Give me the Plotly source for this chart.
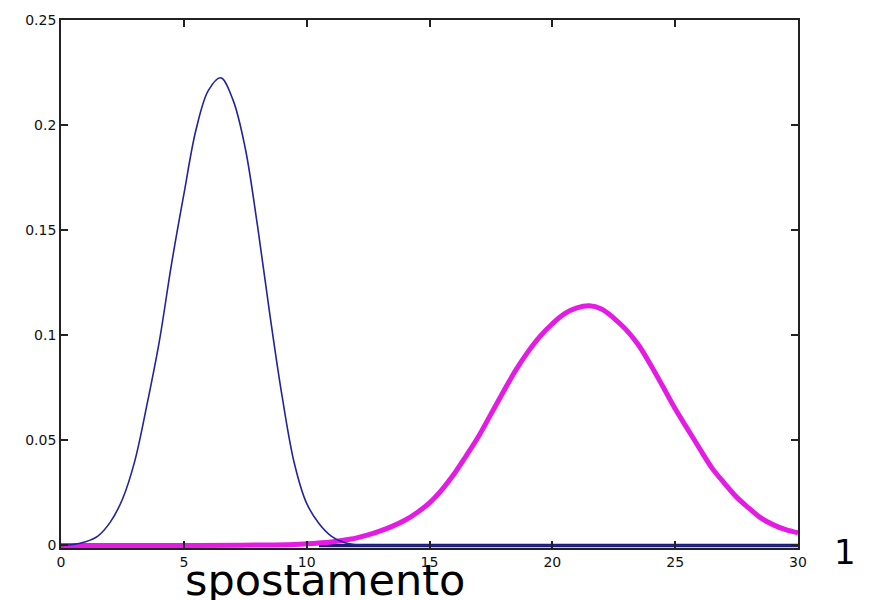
import plotly.graph_objects as go

# Blue (narrow) curve
blue_x = [0, 0.5, 1.0, 1.5, 2.0, 2.5, 3.0, 3.5, 4.0, 4.5, 5.0, 5.5, 6.0, 6.5, 7.0, 7.5,
          8.0, 8.5, 9.0, 9.5, 10.0, 10.5, 11.0, 11.5, 12.0, 12.5, 15, 20, 25, 30]
blue_y = [0, 0.0005, 0.0018, 0.0045, 0.011, 0.022, 0.040, 0.067, 0.097, 0.134, 0.167,
          0.198, 0.2165, 0.2225, 0.212, 0.189, 0.152, 0.110, 0.071, 0.039, 0.020,
          0.0105, 0.0045, 0.0015, 0.0003, 0, 0, 0, 0, 0]

# Magenta (wide) curve
mag_x = [0, 5, 9.5, 10, 10.5, 11, 11.5, 12, 12.5, 13, 13.5, 14, 14.5, 15, 15.5, 16, 16.5,
         17, 17.5, 18, 18.5, 19, 19.5, 20, 20.5, 21, 21.5, 22, 22.5, 23, 23.5, 24, 24.5,
         25, 25.5, 26, 26.5, 27, 27.5, 28, 28.5, 29, 29.5, 30]
mag_y = [0, 0, 0.0005, 0.0008, 0.0012, 0.0017, 0.0025, 0.0035, 0.005, 0.0069, 0.0092,
         0.0120, 0.0157, 0.0203, 0.0265, 0.0340, 0.0428, 0.052, 0.0625, 0.073, 0.0832,
         0.092, 0.0995, 0.1055, 0.1103, 0.1130, 0.1140, 0.1125, 0.1082, 0.1027, 0.0955,
         0.086, 0.0756, 0.065, 0.0555, 0.046, 0.0368, 0.0297, 0.023, 0.0178, 0.013,
         0.0098, 0.0075, 0.006]

# Dark baseline segment visible along the x axis
base_x = [10.5, 30]
base_y = [0, 0]

x_ticks = [0, 5, 10, 15, 20, 25, 30]
x_labels = ["0", "5", "10", "15", "20", "25", "30"]
y_ticks = [0, 0.05, 0.1, 0.15, 0.2, 0.25]
y_labels = ["0", "0.05", "0.1", "0.15", "0.2", "0.25"]

fig = go.Figure()
fig.add_trace(go.Scatter(x=base_x, y=base_y, mode="lines",
                         line=dict(color="#1c1c70", width=3.5)))
fig.add_trace(go.Scatter(x=mag_x, y=mag_y, mode="lines",
                         line=dict(color="#e31be3", width=5, shape="spline", smoothing=1)))
fig.add_trace(go.Scatter(x=blue_x, y=blue_y, mode="lines",
                         line=dict(color="#23239c", width=1.6, shape="spline", smoothing=1)))

fig.update_layout(
    width=871, height=600,
    margin=dict(l=61, r=73, t=17, b=52),
    plot_bgcolor="white", paper_bgcolor="white",
    showlegend=False,
    font=dict(family="DejaVu Sans", size=14, color="#111"),
)
fig.update_xaxes(range=[0, 30], tickvals=x_ticks, ticktext=x_labels,
                 showgrid=False, zeroline=False, showline=True, linecolor="#222",
                 linewidth=1.8, mirror="ticks", ticks="inside", ticklen=7,
                 tickcolor="#222", tickwidth=1.5)
fig.update_yaxes(range=[-0.0012, 0.25], tickvals=y_ticks, ticktext=y_labels,
                 showgrid=False, zeroline=False, showline=True, linecolor="#222",
                 linewidth=1.8, mirror="ticks", ticks="inside", ticklen=7,
                 tickcolor="#222", tickwidth=1.5)

fig.add_annotation(text="spostamento", xref="paper", yref="paper",
                   x=(325 - 61) / (871 - 61 - 73), y=-0.010, xanchor="center", yanchor="top",
                   showarrow=False, font=dict(family="DejaVu Sans", size=43, color="black"))
fig.add_annotation(text="1", xref="paper", yref="paper",
                   x=(845 - 61) / (871 - 61 - 73), y=(548 - 552) / (548 - 17),
                   xanchor="center", yanchor="middle",
                   showarrow=False, font=dict(family="DejaVu Sans", size=34, color="black"))

fig.write_html("out.html")
